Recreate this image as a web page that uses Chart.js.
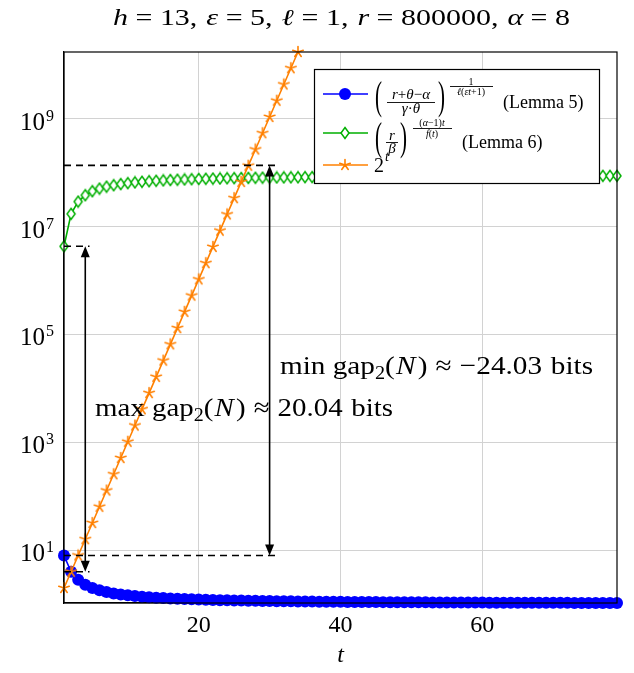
<!DOCTYPE html>
<html>
<head>
<meta charset="utf-8">
<script src="https://cdn.jsdelivr.net/npm/chart.js@4.4.0/dist/chart.umd.min.js"></script>
<style>
  html, body { margin: 0; padding: 0; background: #fff; }
  #wrap { width: 634px; height: 673px; }
</style>
</head>
<body>
<div id="wrap"><canvas id="gapChart" width="634" height="673"></canvas></div>
<script>
// t = 1 .. 79
var tValues = [1, 2, 3, 4, 5, 6, 7, 8, 9, 10, 11, 12, 13, 14, 15, 16, 17, 18, 19, 20,
  21, 22, 23, 24, 25, 26, 27, 28, 29, 30, 31, 32, 33, 34, 35, 36, 37, 38, 39, 40,
  41, 42, 43, 44, 45, 46, 47, 48, 49, 50, 51, 52, 53, 54, 55, 56, 57, 58, 59, 60,
  61, 62, 63, 64, 65, 66, 67, 68, 69, 70, 71, 72, 73, 74, 75, 76, 77, 78, 79];

// Lemma 5 (blue)
var lemma5 = [8, 4, 2.828, 2.297, 2, 1.811, 1.682, 1.587, 1.516, 1.459,
  1.414, 1.377, 1.346, 1.320, 1.297, 1.277, 1.260, 1.245, 1.231, 1.219,
  1.208, 1.198, 1.189, 1.181, 1.173, 1.167, 1.160, 1.154, 1.149, 1.144,
  1.139, 1.134, 1.130, 1.126, 1.122, 1.119, 1.116, 1.113, 1.110, 1.107,
  1.104, 1.102, 1.099, 1.097, 1.095, 1.093, 1.091, 1.089, 1.087, 1.085,
  1.083, 1.082, 1.080, 1.079, 1.077, 1.076, 1.074, 1.073, 1.072, 1.071,
  1.069, 1.068, 1.067, 1.066, 1.065, 1.064, 1.063, 1.062, 1.061, 1.060,
  1.059, 1.059, 1.058, 1.057, 1.056, 1.055, 1.055, 1.054, 1.053];

// Lemma 6 (green)
var lemma6 = [4.30e6, 1.72e7, 2.90e7, 3.81e7, 4.51e7, 5.05e7, 5.48e7, 5.83e7, 6.12e7, 6.37e7,
  6.58e7, 6.75e7, 6.91e7, 7.05e7, 7.17e7, 7.27e7, 7.37e7, 7.46e7, 7.54e7, 7.61e7,
  7.67e7, 7.73e7, 7.79e7, 7.84e7, 7.89e7, 7.93e7, 7.97e7, 8.01e7, 8.05e7, 8.08e7,
  8.11e7, 8.14e7, 8.17e7, 8.19e7, 8.22e7, 8.24e7, 8.26e7, 8.29e7, 8.31e7, 8.33e7,
  8.34e7, 8.36e7, 8.38e7, 8.40e7, 8.41e7, 8.42e7, 8.44e7, 8.45e7, 8.46e7, 8.48e7,
  8.49e7, 8.50e7, 8.51e7, 8.52e7, 8.54e7, 8.55e7, 8.56e7, 8.56e7, 8.57e7, 8.58e7,
  8.59e7, 8.60e7, 8.61e7, 8.61e7, 8.62e7, 8.63e7, 8.64e7, 8.64e7, 8.65e7, 8.66e7,
  8.66e7, 8.67e7, 8.68e7, 8.68e7, 8.69e7, 8.69e7, 8.70e7, 8.70e7, 8.71e7];

// 2^t (orange), t = 1 .. 34
var powT = [2, 4, 8, 16, 32, 64, 128, 256, 512, 1024,
  2048, 4096, 8192, 16384, 32768, 65536, 131072, 262144, 524288, 1048576,
  2097152, 4194304, 8388608, 16777216, 33554432, 67108864, 134217728, 268435456, 536870912, 1073741824,
  2147483648, 4294967296, 8589934592, 17179869184];

var xTicks = [20, 40, 60];
var yTicks = [1e1, 1e3, 1e5, 1e7, 1e9];
var yTickExp = ['1', '3', '5', '7', '9'];

// gap markers
var maxGap = { t: 4, top: 4.30e6, bottom: 4, value: '20.04' };
var minGap = { t: 30, top: 1.36e8, bottom: 8, value: '\u221224.03' };

var SERIF = '"Liberation Serif", "DejaVu Serif", serif';
var BLUE = 'rgb(0,0,255)';
var GREEN = 'rgb(0,175,0)';
var ORANGE = 'rgb(255,128,0)';

function toPoints(vals) {
  return vals.map(function(v, i) { return { x: tValues[i], y: v }; });
}

// 5-armed star like pgf "star"
function starMark(color) {
  var c = document.createElement('canvas');
  c.width = 14; c.height = 14;
  var g = c.getContext('2d');
  g.strokeStyle = color; g.lineWidth = 1.6; g.lineCap = 'round';
  g.beginPath();
  for (var k = 0; k < 5; k++) {
    var a = -Math.PI / 2 + k * 2 * Math.PI / 5;
    g.moveTo(7, 7);
    g.lineTo(7 + 5.5 * Math.cos(a), 7 + 5.5 * Math.sin(a));
  }
  g.stroke();
  return c;
}

function diamondMark(color) {
  var c = document.createElement('canvas');
  c.width = 12; c.height = 14;
  var g = c.getContext('2d');
  g.beginPath();
  g.moveTo(6, 1.5); g.lineTo(10, 7); g.lineTo(6, 12.5); g.lineTo(2, 7); g.closePath();
  g.fillStyle = '#fff'; g.fill();
  g.strokeStyle = color; g.lineWidth = 1.5; g.stroke();
  return c;
}

var starImg = starMark(ORANGE);
var diamondImg = diamondMark(GREEN);

function drawRuns(ctx, runs, x, y) {
  runs.forEach(function(r) {
    ctx.font = r.font;
    ctx.fillText(r.text, x, y + (r.dy || 0));
    x += ctx.measureText(r.text).width + (r.kern || 0);
  });
  return x;
}
function runsWidth(ctx, runs) {
  var w = 0;
  runs.forEach(function(r) { ctx.font = r.font; w += ctx.measureText(r.text).width + (r.kern || 0); });
  return w;
}
// squeeze or stretch a run of text to a given width
function drawFitted(ctx, runs, x, y, width) {
  var w = runsWidth(ctx, runs);
  ctx.save();
  ctx.translate(x, y);
  ctx.scale(width / w, 1);
  drawRuns(ctx, runs, 0, 0);
  ctx.restore();
}
function it(size) { return 'italic ' + size + 'px ' + SERIF; }
function rm(size) { return size + 'px ' + SERIF; }

function drawArrowHead(ctx, x, y, dir) {
  ctx.beginPath();
  ctx.moveTo(x, y);
  ctx.lineTo(x - 4.5, y - dir * 11);
  ctx.lineTo(x + 4.5, y - dir * 11);
  ctx.closePath();
  ctx.fill();
}

function drawGap(ctx, xs, ys, gap, tEnd) {
  var x0 = xs.getPixelForValue(1), x1 = xs.getPixelForValue(tEnd);
  var yTop = ys.getPixelForValue(gap.top), yBot = ys.getPixelForValue(gap.bottom);
  var xa = xs.getPixelForValue(gap.t);
  ctx.save();
  ctx.strokeStyle = '#000'; ctx.fillStyle = '#000'; ctx.lineWidth = 1.6;
  ctx.setLineDash([7, 5]);
  ctx.beginPath();
  ctx.moveTo(x0, yTop); ctx.lineTo(x1, yTop);
  ctx.moveTo(x0, yBot); ctx.lineTo(x1, yBot);
  ctx.stroke();
  ctx.setLineDash([]);
  ctx.beginPath();
  ctx.moveTo(xa, yTop + 8); ctx.lineTo(xa, yBot - 8);
  ctx.stroke();
  drawArrowHead(ctx, xa, yTop, -1);
  drawArrowHead(ctx, xa, yBot, 1);
  ctx.restore();
}

function gapRuns(kind, value) {
  var s = 26, th = 0.28 * s;
  return [
    { text: kind, font: rm(s), kern: 0.25 * s },
    { text: 'gap', font: rm(s) },
    { text: '2', font: rm(18), dy: 5 },
    { text: '(', font: rm(s), kern: 1 },
    { text: 'N', font: it(s), kern: 2 },
    { text: ')', font: rm(s), kern: th },
    { text: '\u2248', font: rm(s), kern: th },
    { text: value, font: rm(s), kern: 0.3 * s },
    { text: 'bits', font: rm(s) }
  ];
}

var decorPlugin = {
  id: 'decor',
  afterDatasetsDraw: function(chart) {
    var ctx = chart.ctx, xs = chart.scales.x, ys = chart.scales.y;
    drawGap(ctx, xs, ys, maxGap, 4.6);
    drawGap(ctx, xs, ys, minGap, 31);
    ctx.save();
    ctx.fillStyle = '#000';
    ctx.textBaseline = 'alphabetic';
    drawFitted(ctx, gapRuns('max', maxGap.value), 95, 416, 298);
    drawFitted(ctx, gapRuns('min', minGap.value), 280, 374, 313);
    ctx.restore();
  },
  afterDraw: function(chart) {
    var ctx = chart.ctx, ys = chart.scales.y, a = chart.chartArea;
    ctx.save();
    // frame
    ctx.strokeStyle = '#000'; ctx.lineWidth = 1.2;
    ctx.strokeRect(a.left, a.top, a.right - a.left, a.bottom - a.top);

    ctx.fillStyle = '#000';
    ctx.textBaseline = 'alphabetic';
    // title
    var ts = 23, th = 0.25 * ts, cs = 0.3 * ts;
    var titleRuns = [
      { text: 'h', font: it(ts), kern: th }, { text: '=', font: rm(ts), kern: th }, { text: '13,', font: rm(ts), kern: cs },
      { text: '\u03b5', font: it(ts), kern: th }, { text: '=', font: rm(ts), kern: th }, { text: '5,', font: rm(ts), kern: cs },
      { text: '\u2113', font: it(ts), kern: th }, { text: '=', font: rm(ts), kern: th }, { text: '1,', font: rm(ts), kern: cs },
      { text: 'r', font: it(ts), kern: th }, { text: '=', font: rm(ts), kern: th }, { text: '800000,', font: rm(ts), kern: cs },
      { text: '\u03b1', font: it(ts), kern: th }, { text: '=', font: rm(ts), kern: th }, { text: '8', font: rm(ts) }
    ];
    drawFitted(ctx, titleRuns, 113, 25, 457);

    // y tick labels 10^k
    yTicks.forEach(function(v, i) {
      var py = ys.getPixelForValue(v);
      ctx.font = rm(16);
      var we = ctx.measureText(yTickExp[i]).width;
      ctx.font = rm(25);
      var wb = ctx.measureText('10').width;
      var right = 54;
      ctx.fillText('10', right - we - wb - 1, py + 11);
      ctx.font = rm(16);
      ctx.fillText(yTickExp[i], right - we, py + 2);
    });

    // x axis title
    ctx.font = it(24);
    ctx.textAlign = 'center';
    ctx.fillText('t', (a.left + a.right) / 2, 662);
    ctx.textAlign = 'left';

    // legend
    ctx.fillStyle = '#fff';
    ctx.fillRect(314, 69, 285, 114);
    ctx.strokeStyle = '#000'; ctx.lineWidth = 1.2;
    ctx.strokeRect(314.5, 69.5, 285, 114);

    var rows = [
      { y: 94, color: BLUE },
      { y: 133, color: GREEN },
      { y: 165, color: ORANGE }
    ];
    rows.forEach(function(r, i) {
      ctx.strokeStyle = r.color; ctx.lineWidth = 1.6;
      ctx.beginPath(); ctx.moveTo(323, r.y); ctx.lineTo(368, r.y); ctx.stroke();
      if (i === 0) {
        ctx.fillStyle = BLUE;
        ctx.beginPath(); ctx.arc(345, r.y, 6, 0, Math.PI * 2); ctx.fill();
      } else if (i === 1) {
        ctx.drawImage(diamondImg, 345 - 6, r.y - 7);
      } else {
        ctx.drawImage(starImg, 345 - 7, r.y - 7);
      }
    });

    ctx.fillStyle = '#000';
    function bigParen(ch, x, cy) {
      ctx.save();
      ctx.translate(x, cy);
      ctx.scale(1, 1.9);
      ctx.font = rm(21);
      ctx.textBaseline = 'middle';
      ctx.fillText(ch, 0, 0);
      ctx.restore();
    }
    function centered(runs, cx, y) {
      var w = runsWidth(ctx, runs);
      drawRuns(ctx, runs, cx - w / 2, y);
    }
    function bar(x0, x1, y) {
      ctx.fillRect(x0, y - 0.4, x1 - x0, 0.9);
    }

    // row 1: Lemma 5
    bigParen('(', 375, 99);
    centered([{ text: 'r', font: it(15) }, { text: '+', font: rm(15) }, { text: '\u03b8', font: it(15) },
      { text: '\u2212', font: rm(15) }, { text: '\u03b1', font: it(15) }], 411, 99);
    bar(387, 435, 102.5);
    centered([{ text: '\u03b3', font: it(15) }, { text: '\u00b7', font: rm(15) }, { text: '\u03b8', font: it(15) }], 411, 113);
    bigParen(')', 438, 99);
    centered([{ text: '1', font: rm(10) }], 471, 84.5);
    bar(450, 493, 86.5);
    centered([{ text: '\u2113', font: it(10) }, { text: '(', font: rm(10) }, { text: '\u03b5', font: it(10) },
      { text: 't', font: it(10) }, { text: '+1)', font: rm(10) }], 471, 95);
    ctx.font = rm(18);
    ctx.fillText('(Lemma 5)', 503, 108);

    // row 2: Lemma 6
    bigParen('(', 375, 140);
    centered([{ text: 'r', font: it(15) }], 392, 139.5);
    bar(386, 398, 142.5);
    centered([{ text: '\u03b2', font: it(15) }], 392, 153);
    bigParen(')', 400, 140);
    centered([{ text: '(', font: rm(10) }, { text: '\u03b1', font: it(10) }, { text: '\u22121)', font: rm(10) },
      { text: 't', font: it(10) }], 432, 126);
    bar(413, 452, 128.5);
    centered([{ text: 'f', font: it(10) }, { text: '(', font: rm(10) }, { text: 't', font: it(10) },
      { text: ')', font: rm(10) }], 432, 136.5);
    ctx.font = rm(18);
    ctx.fillText('(Lemma 6)', 462, 148);

    // row 3: 2^t
    ctx.font = rm(20);
    ctx.fillText('2', 374, 172);
    ctx.font = it(14);
    ctx.fillText('t', 385, 161);

    ctx.restore();
  }
};

var ctx = document.getElementById('gapChart').getContext('2d');
var chart = new Chart(ctx, {
  type: 'line',
  data: {
    datasets: [{
      label: 'Lemma 5',
      data: toPoints(lemma5),
      borderColor: BLUE,
      backgroundColor: BLUE,
      borderWidth: 1.6,
      pointStyle: 'circle',
      pointRadius: 6,
      pointBorderWidth: 0,
      pointBackgroundColor: BLUE,
      clip: false,
      order: 2
    }, {
      label: 'Lemma 6',
      data: toPoints(lemma6),
      borderColor: GREEN,
      borderWidth: 1.6,
      pointStyle: diamondImg,
      clip: false,
      order: 1
    }, {
      label: '2^t',
      data: toPoints(powT),
      borderColor: ORANGE,
      borderWidth: 1.6,
      pointStyle: starImg,
      clip: false,
      order: 0
    }]
  },
  options: {
    responsive: false,
    animation: false,
    layout: { padding: { top: 52, right: 17, left: 0, bottom: 0 } },
    plugins: {
      legend: { display: false },
      tooltip: { enabled: false }
    },
    scales: {
      x: {
        type: 'linear',
        min: 1,
        max: 79,
        afterBuildTicks: function(s) { s.ticks = xTicks.map(function(v) { return { value: v }; }); },
        afterFit: function(s) { s.height = 70; },
        grid: { color: '#d2d2d2', lineWidth: 1, drawTicks: false },
        border: { color: '#000', width: 1.2 },
        ticks: { color: '#000', font: { family: SERIF, size: 24 }, padding: 8, maxRotation: 0 }
      },
      y: {
        type: 'logarithmic',
        min: 1.053,
        max: 17179869184,
        afterBuildTicks: function(s) { s.ticks = yTicks.map(function(v) { return { value: v }; }); },
        afterFit: function(s) { s.width = 64; },
        grid: { color: '#d2d2d2', lineWidth: 1, drawTicks: false },
        border: { color: '#000', width: 1.2 },
        ticks: { display: false }
      }
    }
  },
  plugins: [decorPlugin]
});
</script>
</body>
</html>
